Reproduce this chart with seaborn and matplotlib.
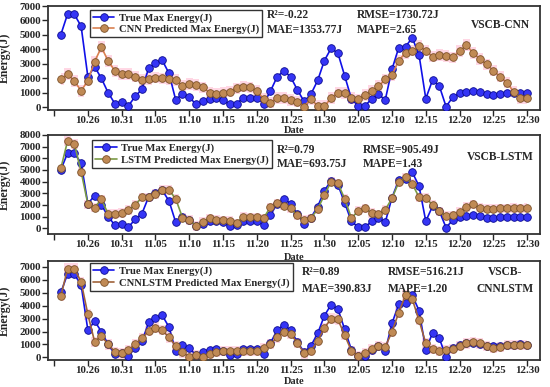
import numpy as np
import pandas as pd
import matplotlib
matplotlib.use("Agg")
import matplotlib.pyplot as plt
import seaborn as sns

# -----------------------------
# Data
# -----------------------------
true_energy = [5020, 6450, 6420, 5600, 2100, 2800, 2000, 1000, 250, 350,
               100, 750, 1250, 2700, 3050, 3250, 2350, 500, 950, 700,
               200, 400, 600, 650, 500, 200, 250, 650, 650, 650,
               250, 1100, 2100, 2530, 2100, 1200, 400, 900, 1850, 3230,
               4080, 3730, 2170, 580, 100, 100, 580, 900, 500, 2630,
               4120, 4190, 4800, 3620, 600, 1880, 1470, 50, 700, 970,
               1080, 1150, 1040, 900, 850, 920, 970, 970, 1000, 970]

cnn_pred = [1960, 2280, 1820, 1130, 1840, 3160, 4150, 3200, 2510, 2300,
            2300, 2120, 1890, 1940, 2050, 2000, 1960, 1870, 1500, 1610,
            1540, 1380, 1010, 920, 970, 1080, 1310, 1430, 1380, 1130,
            580, 320, 620, 620, 500, 390, 50, 570, 90, 90,
            620, 1010, 970, 620, 550, 850, 1130, 1450, 1930, 2230,
            3220, 3770, 3910, 4240, 3910, 3500, 3620, 3550, 3450, 3880,
            4300, 3770, 3320, 2970, 2530, 2120, 1700, 1080, 620, 620]

lstm_pred = [5140, 7490, 7230, 4860, 2060, 1770, 2490, 1230, 1230, 1290,
             1570, 2000, 2660, 2660, 2940, 3290, 3290, 2510, 910, 710,
             200, 570, 860, 710, 660, 630, 430, 1000, 940, 940,
             860, 1800, 2140, 1940, 1710, 1090, 710, 860, 1630, 2860,
             4000, 3860, 2510, 860, 1490, 1710, 1290, 1200, 1570, 2570,
             3940, 4370, 3800, 2660, 2580, 2010, 1450, 1050, 1100, 1390,
             1810, 2040, 1760, 1680, 1680, 1700, 1700, 1720, 1700, 1730]

cnnlstm_pred = [4730, 6860, 6860, 5840, 3320, 1210, 1670, 1000, 440, 310,
                570, 1030, 1470, 2060, 2310, 2110, 1540, 900, 390, 50,
                180, 50, 260, 440, 510, 490, 510, 510, 510, 510,
                690, 1030, 1540, 1980, 1800, 1130, 310, 490, 1260, 2280,
                3000, 2930, 1720, 510, 130, 310, 620, 880, 820, 1980,
                3470, 4810, 4500, 2880, 1080, 650, 490, 570, 650, 900,
                1080, 1210, 1080, 900, 750, 820, 950, 950, 950, 950]

tick_labels = ["", "10.26", "10.31", "11.05", "11.10", "11.15", "11.20",
               "11.25", "11.30", "12.05", "12.10", "12.15", "12.20",
               "12.25", "12.30"]

models = ["CNN", "LSTM", "CNNLSTM"]
preds = [cnn_pred, lstm_pred, cnnlstm_pred]
r2 = ["-0.22", "0.79", "0.89"]
rmse = ["1730.72", "905.49", "516.21"]
mae = ["1353.77", "693.75", "390.83"]
mape = ["2.65", "1.43", "1.20"]

# -----------------------------
# Style
# -----------------------------
sns.set_style("ticks")
plt.rcParams["font.family"] = ["Liberation Serif", "DejaVu Serif"]
plt.rcParams["font.weight"] = "bold"
plt.rcParams["axes.labelweight"] = "bold"

W, H = 550, 387
fig = plt.figure(figsize=(5.5, 3.87), dpi=100)

# axes boxes in pixels: (top, bottom)
boxes = [(6, 110), (135, 234), (261, 360)]
left_px, right_px = 48, 540
ylims = [(-190, 7000), (-500, 8000), (-200, 7450)]
yticks = [np.arange(0, 7001, 1000), np.arange(0, 8001, 1000), np.arange(0, 7001, 1000)]
pred_line_colors = ["#D98050", "#7A9A45", "#A0623A"]
legend_anchor = [(0.085, 0.965), (0.09, 0.945), (0.085, 0.975)]
date_y = [-0.15, -0.19, -0.17]

x = np.arange(len(true_energy))

for k in range(3):
    top, bot = boxes[k]
    ax = fig.add_axes([left_px / W, 1 - bot / H, (right_px - left_px) / W, (bot - top) / H])

    df = pd.DataFrame({"idx": x, "true": true_energy, "pred": preds[k]})
    p = np.array(preds[k])

    # pink shaded band round the prediction
    ax.fill_between(df["idx"], p - 400, p + 400, step="mid",
                    color="#FFA8C5", alpha=0.45, linewidth=0, zorder=1)

    sns.lineplot(data=df, x="idx", y="true", ax=ax, color="#1010E8",
                 linewidth=1.2, marker="o", markersize=5.5,
                 markerfacecolor="#3535F5", markeredgecolor="#0A0A90",
                 markeredgewidth=0.6, label="True Max Energy(J)", zorder=3)
    sns.lineplot(data=df, x="idx", y="pred", ax=ax, color=pred_line_colors[k],
                 linewidth=1.2, marker="o", markersize=5.5,
                 markerfacecolor="#C08A55", markeredgecolor="#7A5028",
                 markeredgewidth=0.6,
                 label=f"{models[k]} Predicted Max Energy(J)", zorder=4)

    ax.set_xlim(-1.9, 70.9)
    ax.set_ylim(*ylims[k])
    ax.set_xticks(np.arange(-1, 70, 5))
    ax.set_xticklabels(tick_labels, fontsize=7.8, fontweight="bold")
    ax.set_yticks(yticks[k])
    ax.set_yticklabels([str(v) for v in yticks[k]], fontsize=7.8, fontweight="bold")
    ax.tick_params(axis="x", direction="out", length=4, width=1, pad=0.5)
    ax.tick_params(axis="y", direction="out", length=4, width=1, pad=1)

    ax.set_xlabel("Date", fontsize=7.5, fontweight="bold")
    ax.set_ylabel("Energy(J)", fontsize=8.5, fontweight="bold")
    ax.xaxis.set_label_coords(0.5, date_y[k])
    ax.yaxis.set_label_coords(-0.075, 0.5)

    for s in ax.spines.values():
        s.set_color("#333333")
        s.set_linewidth(1.3)

    leg = ax.legend(loc="upper left", bbox_to_anchor=legend_anchor[k],
                    fontsize=7.7, frameon=True, fancybox=False,
                    edgecolor="black", handlelength=2.0, borderpad=0.3,
                    labelspacing=0.15, handletextpad=0.4, borderaxespad=0)
    leg.get_frame().set_linewidth(1.0)
    for t in leg.get_texts():
        t.set_fontweight("bold")

# -----------------------------
# Metric annotations (pixel positions)
# -----------------------------
def ftext(px, py, s, **kw):
    fig.text(px / W, 1 - py / H, s, fontsize=8.3, fontweight="bold", va="center", **kw)

rows = [(15, 30), (150, 164), (272, 289)]
col1 = [267, 277, 302]
col2 = [357, 363, 388]
for k in range(3):
    ya, yb = rows[k]
    ftext(col1[k], ya, f"R\u00b2={r2[k]}")
    ftext(col2[k], ya, f"RMSE={rmse[k]}J")
    ftext(col1[k], yb, f"MAE={mae[k]}J")
    ftext(col2[k], yb, f"MAPE={mape[k]}")

ftext(500, 25, "VSCB-CNN", ha="center")
ftext(500, 157, "VSCB-LSTM", ha="center")
ftext(505, 272, "VSCB-", ha="center")
ftext(505, 289, "CNNLSTM", ha="center")

fig.savefig("out.png", dpi=100)
